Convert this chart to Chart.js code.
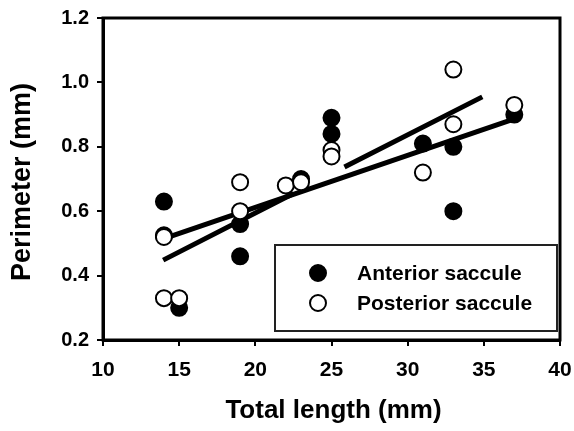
<!DOCTYPE html>
<html>
<head>
<meta charset="utf-8">
<script src="https://cdn.jsdelivr.net/npm/chart.js@4"></script>
<style>
  body { margin: 0; background: #fff; }
  #wrap { width: 574px; height: 431px; }
</style>
</head>
<body>
<div id="wrap"><canvas id="myChart" width="574" height="431"></canvas></div>
<script>
// values
const anteriorX = [14, 14, 15, 19, 19, 23, 25, 25, 31, 33, 33, 37];
const anteriorY = [0.63, 0.525, 0.30, 0.56, 0.46, 0.70, 0.89, 0.84, 0.81, 0.80, 0.60, 0.90];
const posteriorX = [14, 14, 15, 19, 19, 22, 23, 25, 25, 31, 33, 33, 37];
const posteriorY = [0.52, 0.33, 0.33, 0.69, 0.60, 0.68, 0.69, 0.79, 0.77, 0.72, 1.04, 0.87, 0.93];

// the two fitted lines (the steeper one is drawn broken in the original)
const fitAX = [14, 37.2];
const fitAY = [0.515, 0.89];
const fitBX = [13.95, 22.5, 24, 25.85, 34.9];
const fitBY = [0.448, 0.655, null, 0.737, 0.955];

const xTicks = [10, 15, 20, 25, 30, 35, 40];
const yTicks = [0.2, 0.4, 0.6, 0.8, 1.0, 1.2];

const seriesNames = ['Anterior saccule', 'Posterior saccule'];

function pts(xs, ys) {
    return xs.map((x, i) => ({ x: x, y: ys[i] }));
}

const FONT = "'Liberation Sans', Arial, sans-serif";

// box round the plot, axis titles and the legend
const extras = {
    id: 'extras',
    beforeDatasetsDraw(chart) {
        const a = chart.chartArea, c = chart.ctx;
        c.save();
        c.strokeStyle = '#000';
        c.lineWidth = 3;
        c.strokeRect(a.left, a.top, a.right - a.left, a.bottom - a.top);
        c.restore();
    },
    afterDraw(chart) {
        const a = chart.chartArea, c = chart.ctx;
        c.save();
        c.fillStyle = '#000';
        c.font = 'bold 26px ' + FONT;
        c.textAlign = 'center';
        c.textBaseline = 'middle';
        c.fillText('Total length (mm)', (a.left + a.right) / 2 + 2, 411);
        c.translate(23, (a.top + a.bottom) / 2 + 3);
        c.rotate(-Math.PI / 2);
        c.font = 'bold 27px ' + FONT;
        c.fillText('Perimeter (mm)', 0, 0);
        c.restore();

        // legend
        c.save();
        c.strokeStyle = '#222';
        c.lineWidth = 2;
        c.fillStyle = '#fff';
        c.fillRect(275, 245, 282, 86);
        c.strokeRect(275, 245, 282, 86);
        const ds = chart.data.datasets;
        [ds[1], ds[0]].forEach((d, i) => {
            const y = 273 + i * 30;
            c.beginPath();
            c.arc(318, y, 8, 0, Math.PI * 2);
            c.fillStyle = d.backgroundColor;
            c.fill();
            c.lineWidth = 2;
            c.strokeStyle = d.borderColor;
            c.stroke();
            c.fillStyle = '#000';
            c.font = 'bold 21px ' + FONT;
            c.textAlign = 'left';
            c.textBaseline = 'middle';
            c.fillText(d.label, 357, y + 1);
        });
        c.restore();
    }
};

const ctx = document.getElementById('myChart');

var chart = new Chart(ctx, {
    type: 'scatter',
    data: {
        datasets: [
            {
                label: seriesNames[1],
                data: pts(posteriorX, posteriorY),
                backgroundColor: '#fff',
                borderColor: '#000',
                borderWidth: 2,
                pointRadius: 8
            },
            {
                label: seriesNames[0],
                data: pts(anteriorX, anteriorY),
                backgroundColor: '#000',
                borderColor: '#000',
                borderWidth: 2,
                pointRadius: 8
            },
            {
                label: 'fit A',
                data: pts(fitAX, fitAY),
                showLine: true,
                pointRadius: 0,
                borderColor: '#000',
                borderWidth: 5,
                borderCapStyle: 'butt'
            },
            {
                label: 'fit B',
                data: pts(fitBX, fitBY),
                showLine: true,
                spanGaps: false,
                pointRadius: 0,
                borderColor: '#000',
                borderWidth: 5,
                borderCapStyle: 'butt'
            }
        ]
    },
    options: {
        responsive: false,
        animation: false,
        layout: { padding: { top: 18, right: 14, left: 0, bottom: 0 } },
        plugins: {
            legend: { display: false },
            tooltip: { enabled: false }
        },
        scales: {
            x: {
                type: 'linear',
                min: 10,
                max: 40,
                afterFit: s => { s.height = 91; s.paddingLeft = 0; s.paddingRight = 0; },
                afterBuildTicks: s => { s.ticks = xTicks.map(v => ({ value: v })); },
                grid: { drawOnChartArea: false, drawTicks: true, tickLength: 6, color: '#000', lineWidth: 2 },
                border: { display: true, color: '#000', width: 3 },
                ticks: {
                    color: '#000',
                    padding: 12,
                    font: { family: FONT, size: 21, weight: 'bold' }
                }
            },
            y: {
                type: 'linear',
                min: 0.2,
                max: 1.2,
                afterFit: s => { s.width = 103; s.paddingTop = 0; s.paddingBottom = 0; },
                afterBuildTicks: s => { s.ticks = yTicks.map(v => ({ value: v })); },
                grid: { drawOnChartArea: false, drawTicks: true, tickLength: 6, color: '#000', lineWidth: 2 },
                border: { display: true, color: '#000', width: 3 },
                ticks: {
                    color: '#000',
                    padding: 8,
                    callback: v => v.toFixed(1),
                    font: { family: FONT, size: 20, weight: 'bold' }
                }
            }
        }
    },
    plugins: [extras]
});
</script>
</body>
</html>
